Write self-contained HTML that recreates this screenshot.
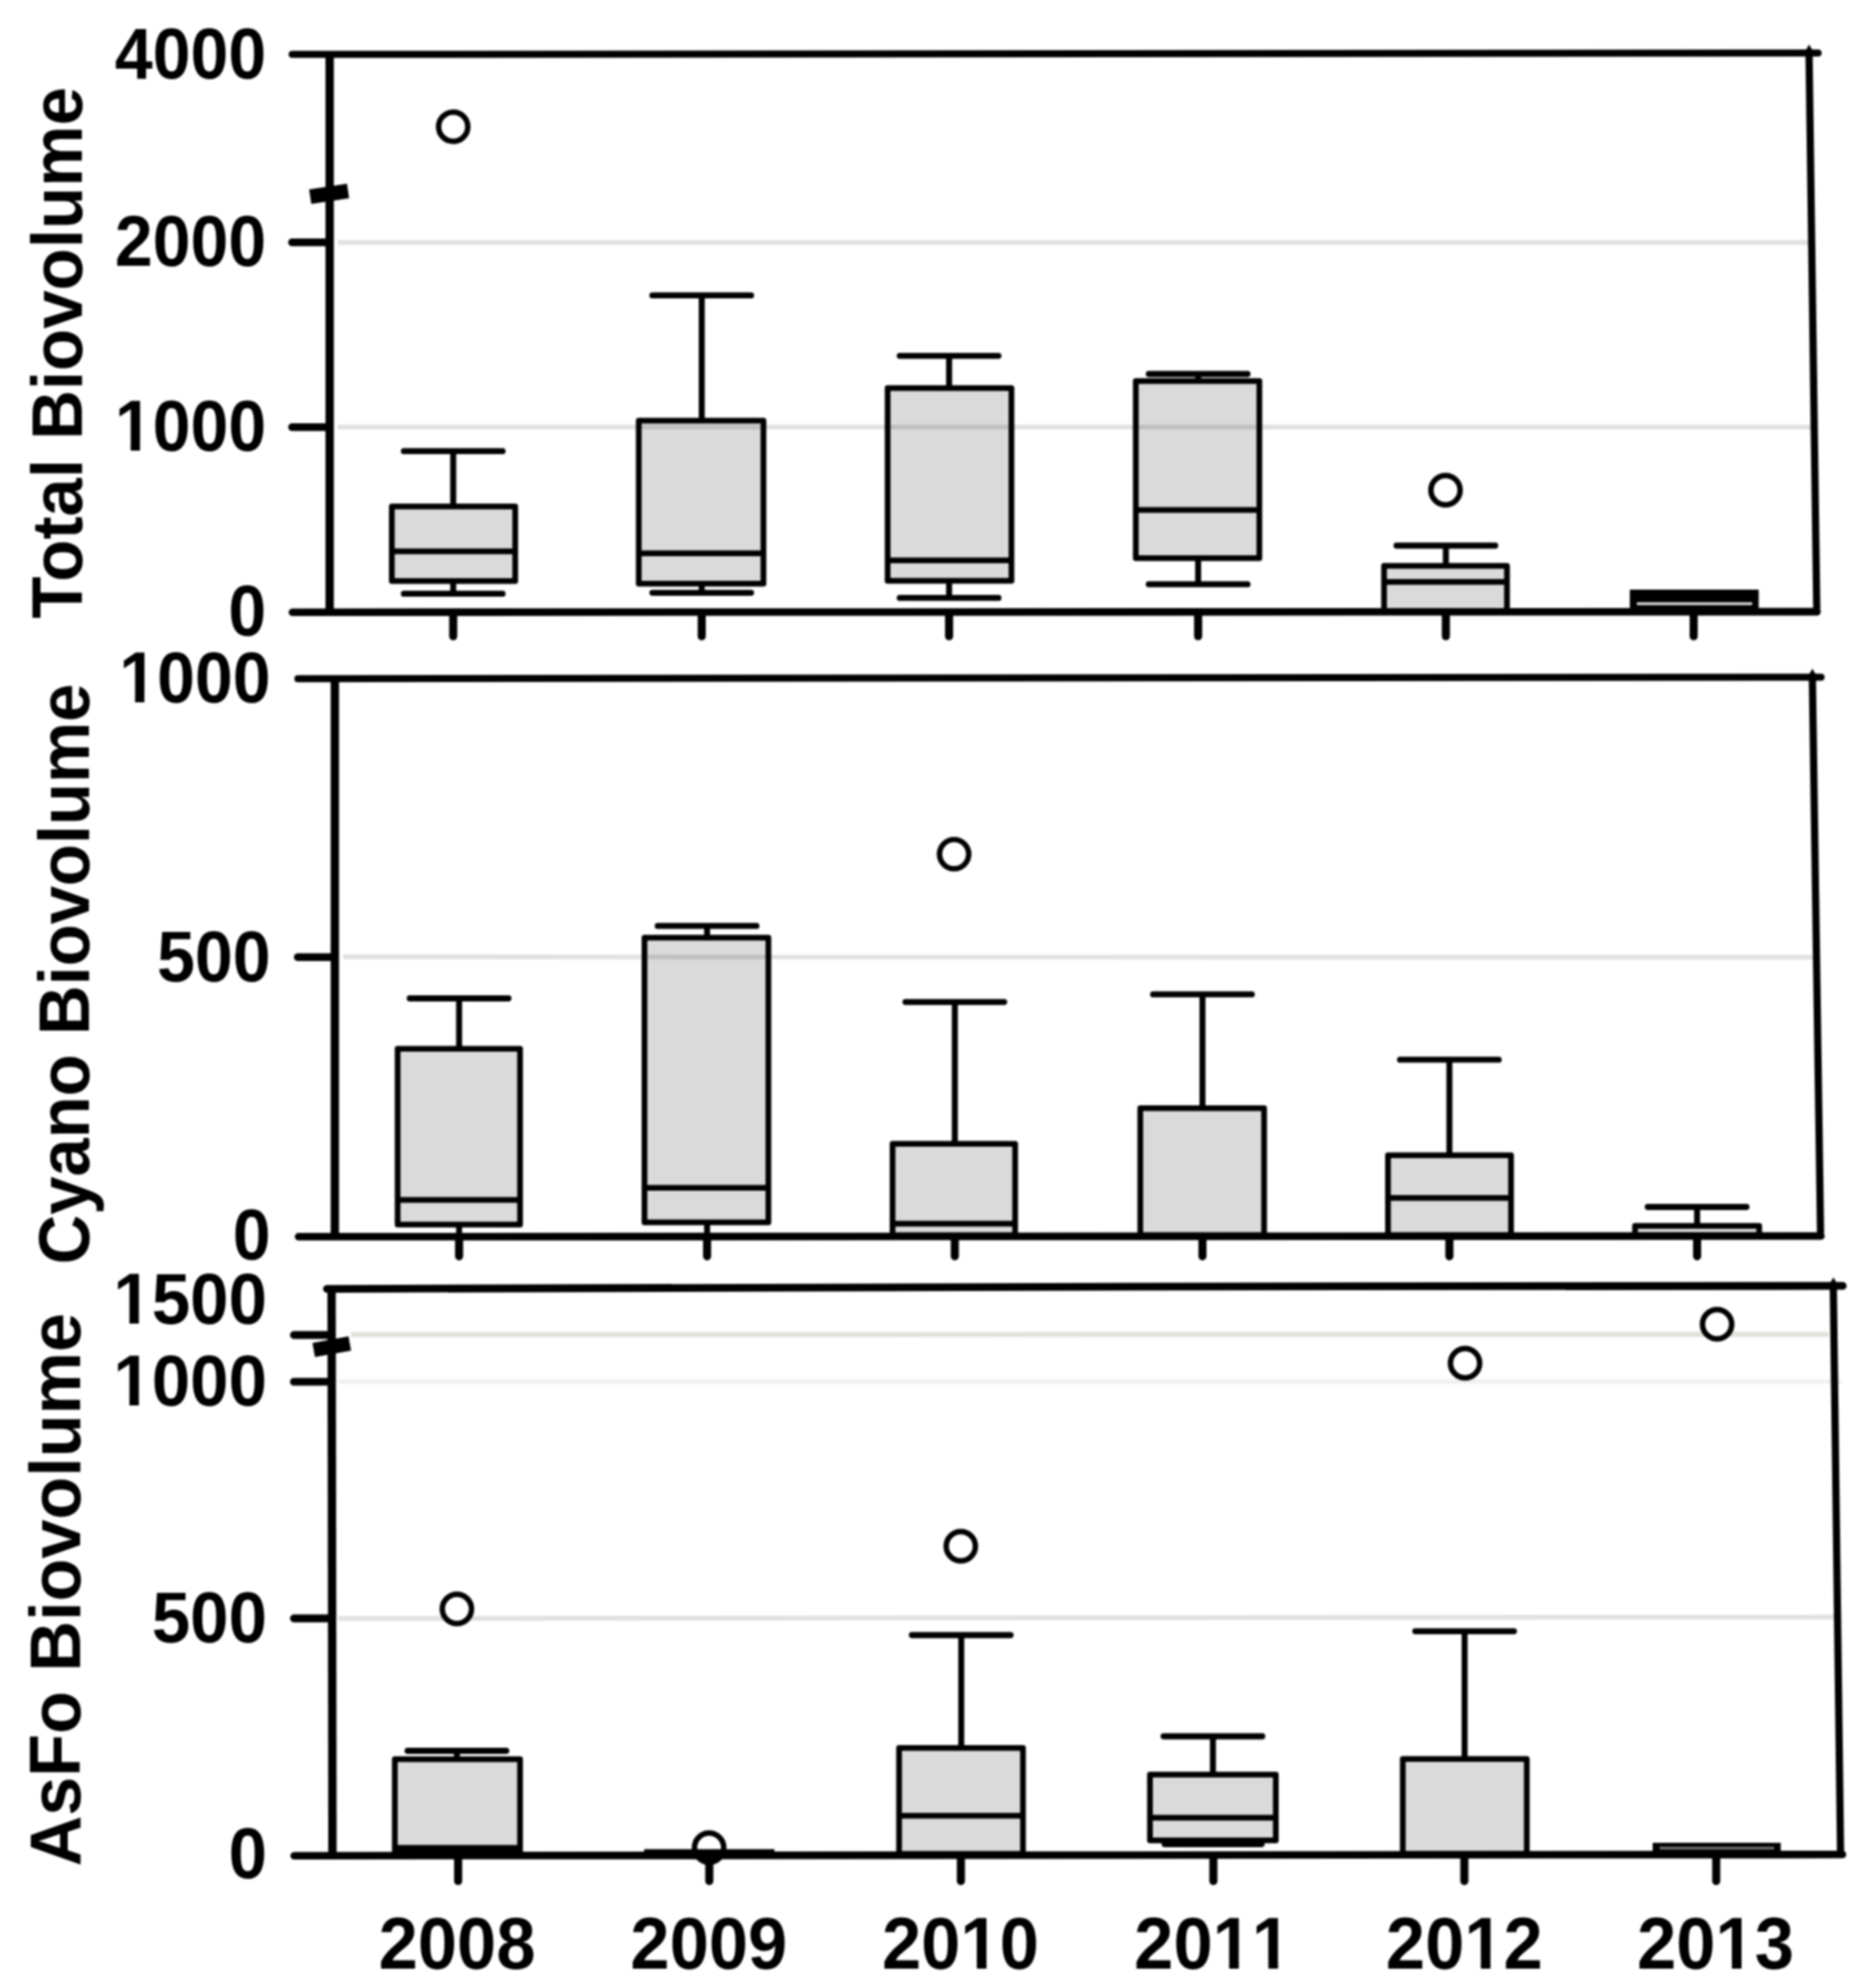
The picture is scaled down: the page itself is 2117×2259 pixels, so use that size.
<!DOCTYPE html>
<html><head><meta charset="utf-8"><title>Biovolume box plots</title>
<style>
html,body{margin:0;padding:0;background:#fff;overflow:hidden;}
svg{display:block;filter:blur(0.9px);}
text{font-family:"Liberation Sans",Arial,Helvetica,sans-serif;font-weight:700;fill:#000;font-kerning:none;}
</style></head><body>
<svg width="2117" height="2259" viewBox="0 0 2117 2259">
<rect width="2117" height="2259" fill="#fff"/>
<g id="gridlines">
<line x1="384" y1="275.4" x2="2061" y2="275.4" stroke="#e1e1e3" stroke-width="5.5" stroke-linecap="butt"/>
<line x1="384" y1="485.2" x2="2063" y2="485.2" stroke="#e1e1e3" stroke-width="5.5" stroke-linecap="butt"/>
<line x1="390" y1="1087.3" x2="2066" y2="1087.8" stroke="#e1e1e3" stroke-width="5.5" stroke-linecap="butt"/>
<line x1="399" y1="1516.5" x2="2078" y2="1516.2" stroke="#e2e2dc" stroke-width="6" stroke-linecap="butt"/>
<line x1="384" y1="1570" x2="2093" y2="1570" stroke="#f1eff1" stroke-width="5" stroke-linecap="butt"/>
<line x1="384" y1="1839" x2="2089" y2="1837.6" stroke="#e1e1e3" stroke-width="5.5" stroke-linecap="butt"/>
</g>
<line x1="515" y1="512.7" x2="515" y2="574.3" stroke="#000" stroke-width="6.8" stroke-linecap="butt"/>
<line x1="458.9" y1="512.7" x2="571.1" y2="512.7" stroke="#000" stroke-width="6.8" stroke-linecap="round"/>
<line x1="515" y1="661.4" x2="515" y2="674.7" stroke="#000" stroke-width="6.8" stroke-linecap="butt"/>
<line x1="458.9" y1="674.7" x2="571.1" y2="674.7" stroke="#000" stroke-width="6.8" stroke-linecap="round"/>
<rect x="445.25" y="575.55" width="140.20000000000005" height="84.60000000000002" fill="#dadada" stroke="#000" stroke-width="6.5" stroke-linejoin="round" style="mix-blend-mode:multiply"/>
<line x1="445.25" y1="626.4" x2="585.45" y2="626.4" stroke="#000" stroke-width="6.5" stroke-linecap="butt"/>
<line x1="797.4" y1="335.7" x2="797.4" y2="476.8" stroke="#000" stroke-width="6.8" stroke-linecap="butt"/>
<line x1="741.3" y1="335.7" x2="853.5" y2="335.7" stroke="#000" stroke-width="6.8" stroke-linecap="round"/>
<line x1="797.4" y1="664.5" x2="797.4" y2="673.6" stroke="#000" stroke-width="6.8" stroke-linecap="butt"/>
<line x1="741.3" y1="673.6" x2="853.5" y2="673.6" stroke="#000" stroke-width="6.8" stroke-linecap="round"/>
<rect x="725.85" y="478.05" width="141.69999999999993" height="185.2" fill="#dadada" stroke="#000" stroke-width="6.5" stroke-linejoin="round" style="mix-blend-mode:multiply"/>
<line x1="725.85" y1="628.8" x2="867.55" y2="628.8" stroke="#000" stroke-width="6.5" stroke-linecap="butt"/>
<line x1="1078.5" y1="404.3" x2="1078.5" y2="439.8" stroke="#000" stroke-width="6.8" stroke-linecap="butt"/>
<line x1="1022.4" y1="404.3" x2="1134.6" y2="404.3" stroke="#000" stroke-width="6.8" stroke-linecap="round"/>
<line x1="1078.5" y1="661.3" x2="1078.5" y2="679.4" stroke="#000" stroke-width="6.8" stroke-linecap="butt"/>
<line x1="1022.4" y1="679.4" x2="1134.6" y2="679.4" stroke="#000" stroke-width="6.8" stroke-linecap="round"/>
<rect x="1008.65" y="441.05" width="140.69999999999993" height="218.99999999999994" fill="#dadada" stroke="#000" stroke-width="6.5" stroke-linejoin="round" style="mix-blend-mode:multiply"/>
<line x1="1008.65" y1="636.8" x2="1149.35" y2="636.8" stroke="#000" stroke-width="6.5" stroke-linecap="butt"/>
<line x1="1361.5" y1="425" x2="1361.5" y2="431.8" stroke="#000" stroke-width="6.8" stroke-linecap="butt"/>
<line x1="1305.4" y1="425.0" x2="1417.6" y2="425.0" stroke="#000" stroke-width="6.8" stroke-linecap="round"/>
<line x1="1361.5" y1="635.5" x2="1361.5" y2="663.9" stroke="#000" stroke-width="6.8" stroke-linecap="butt"/>
<line x1="1305.4" y1="663.9" x2="1417.6" y2="663.9" stroke="#000" stroke-width="6.8" stroke-linecap="round"/>
<rect x="1290.65" y="433.05" width="140.39999999999986" height="201.2" fill="#dadada" stroke="#000" stroke-width="6.5" stroke-linejoin="round" style="mix-blend-mode:multiply"/>
<line x1="1290.65" y1="579.5" x2="1431.05" y2="579.5" stroke="#000" stroke-width="6.5" stroke-linecap="butt"/>
<line x1="1643" y1="620" x2="1643" y2="641.8" stroke="#000" stroke-width="6.8" stroke-linecap="butt"/>
<line x1="1586.9" y1="620.0" x2="1699.1" y2="620.0" stroke="#000" stroke-width="6.8" stroke-linecap="round"/>
<rect x="1572.75" y="643.05" width="139.70000000000005" height="51.700000000000045" fill="#dadada" stroke="#000" stroke-width="6.5" stroke-linejoin="round" style="mix-blend-mode:multiply"/>
<line x1="1572.75" y1="661.3" x2="1712.45" y2="661.3" stroke="#000" stroke-width="6.5" stroke-linecap="butt"/>
<rect x="1852" y="670" width="146.5" height="26" fill="#000"/>
<line x1="1860" y1="686" x2="1991" y2="686" stroke="#e8e8e8" stroke-width="3" stroke-linecap="butt"/>
<circle cx="515" cy="144" r="16.6" fill="#fff" stroke="#000" stroke-width="6.2"/>
<circle cx="1642.6" cy="557" r="16.6" fill="#fff" stroke="#000" stroke-width="6.2"/>
<line x1="332.0" y1="61.8" x2="2066.0" y2="60.2" stroke="#000" stroke-width="8" stroke-linecap="round"/>
<line x1="332.3" y1="695.7" x2="2064.7" y2="695.1" stroke="#000" stroke-width="8.6" stroke-linecap="round"/>
<line x1="374.6" y1="61.8" x2="374.6" y2="695.5" stroke="#000" stroke-width="9.5" stroke-linecap="butt"/>
<line x1="2055.66" y1="59.1" x2="2064.44" y2="690.9" stroke="#000" stroke-width="8.2" stroke-linecap="round"/>
<polygon points="2051.5,58 2055.8,50.5 2060,58"/>
<line x1="331.9" y1="275.4" x2="369.6" y2="275.4" stroke="#000" stroke-width="8.8" stroke-linecap="round"/>
<line x1="331.9" y1="485.3" x2="369.6" y2="485.3" stroke="#000" stroke-width="8.8" stroke-linecap="round"/>
<line x1="515.0" y1="699.6" x2="515.0" y2="722.9" stroke="#000" stroke-width="9.2" stroke-linecap="round"/>
<line x1="797.4" y1="699.6" x2="797.4" y2="722.9" stroke="#000" stroke-width="9.2" stroke-linecap="round"/>
<line x1="1078.5" y1="699.6" x2="1078.5" y2="722.9" stroke="#000" stroke-width="9.2" stroke-linecap="round"/>
<line x1="1361.5" y1="699.6" x2="1361.5" y2="722.9" stroke="#000" stroke-width="9.2" stroke-linecap="round"/>
<line x1="1643.0" y1="699.6" x2="1643.0" y2="722.9" stroke="#000" stroke-width="9.2" stroke-linecap="round"/>
<line x1="1924.6" y1="699.6" x2="1924.6" y2="722.9" stroke="#000" stroke-width="9.2" stroke-linecap="round"/>
<line x1="352.5" y1="223.5" x2="395.5" y2="217" stroke="#000" stroke-width="16.5" stroke-linecap="butt"/>
<line x1="521.7" y1="1134.5" x2="521.7" y2="1190.6" stroke="#000" stroke-width="6.8" stroke-linecap="butt"/>
<line x1="465.6" y1="1134.5" x2="577.8" y2="1134.5" stroke="#000" stroke-width="6.8" stroke-linecap="round"/>
<rect x="451.85" y="1191.85" width="139.10000000000002" height="199.60000000000014" fill="#dadada" stroke="#000" stroke-width="6.5" stroke-linejoin="round" style="mix-blend-mode:multiply"/>
<line x1="451.85" y1="1363.4" x2="590.95" y2="1363.4" stroke="#000" stroke-width="6.5" stroke-linecap="butt"/>
<line x1="521.7" y1="1392" x2="521.7" y2="1404" stroke="#000" stroke-width="6.8" stroke-linecap="butt"/>
<line x1="803.5" y1="1052.2" x2="803.5" y2="1064.3" stroke="#000" stroke-width="6.8" stroke-linecap="butt"/>
<line x1="747.4" y1="1052.2" x2="859.6" y2="1052.2" stroke="#000" stroke-width="6.8" stroke-linecap="round"/>
<rect x="732.35" y="1065.55" width="140.79999999999995" height="323.5" fill="#dadada" stroke="#000" stroke-width="6.5" stroke-linejoin="round" style="mix-blend-mode:multiply"/>
<line x1="732.35" y1="1349.8" x2="873.15" y2="1349.8" stroke="#000" stroke-width="6.5" stroke-linecap="butt"/>
<line x1="803.5" y1="1390" x2="803.5" y2="1404" stroke="#000" stroke-width="6.8" stroke-linecap="butt"/>
<line x1="1085" y1="1138.6" x2="1085" y2="1298.5" stroke="#000" stroke-width="6.8" stroke-linecap="butt"/>
<line x1="1028.9" y1="1138.6" x2="1141.1" y2="1138.6" stroke="#000" stroke-width="6.8" stroke-linecap="round"/>
<rect x="1014.25" y="1299.75" width="139.29999999999995" height="104.0" fill="#dadada" stroke="#000" stroke-width="6.5" stroke-linejoin="round" style="mix-blend-mode:multiply"/>
<line x1="1014.25" y1="1390.4" x2="1153.55" y2="1390.4" stroke="#000" stroke-width="6.5" stroke-linecap="butt"/>
<line x1="1366.4" y1="1129.9" x2="1366.4" y2="1257.9" stroke="#000" stroke-width="6.8" stroke-linecap="butt"/>
<line x1="1310.3" y1="1129.9" x2="1422.5" y2="1129.9" stroke="#000" stroke-width="6.8" stroke-linecap="round"/>
<rect x="1295.75" y="1259.15" width="140.70000000000005" height="144.5999999999999" fill="#dadada" stroke="#000" stroke-width="6.5" stroke-linejoin="round" style="mix-blend-mode:multiply"/>
<line x1="1647" y1="1204.2" x2="1647" y2="1311.5" stroke="#000" stroke-width="6.8" stroke-linecap="butt"/>
<line x1="1590.9" y1="1204.2" x2="1703.1" y2="1204.2" stroke="#000" stroke-width="6.8" stroke-linecap="round"/>
<rect x="1577.25" y="1312.75" width="139.79999999999995" height="91.0" fill="#dadada" stroke="#000" stroke-width="6.5" stroke-linejoin="round" style="mix-blend-mode:multiply"/>
<line x1="1577.25" y1="1361.2" x2="1717.05" y2="1361.2" stroke="#000" stroke-width="6.5" stroke-linecap="butt"/>
<line x1="1928.5" y1="1371.5" x2="1928.5" y2="1391.8" stroke="#000" stroke-width="6.8" stroke-linecap="butt"/>
<line x1="1872.4" y1="1371.5" x2="1984.6" y2="1371.5" stroke="#000" stroke-width="6.8" stroke-linecap="round"/>
<rect x="1857.95" y="1393.05" width="141.0999999999999" height="10.700000000000045" fill="#dadada" stroke="#000" stroke-width="6.5" stroke-linejoin="round" style="mix-blend-mode:multiply"/>
<circle cx="1084.2" cy="970.6" r="16.6" fill="#fff" stroke="#000" stroke-width="6.2"/>
<line x1="338.5" y1="771.2" x2="2069.4" y2="769.4" stroke="#000" stroke-width="8" stroke-linecap="round"/>
<line x1="339.3" y1="1405.3" x2="2069.2" y2="1404.5" stroke="#000" stroke-width="8.6" stroke-linecap="round"/>
<line x1="380.5" y1="771" x2="380.5" y2="1404" stroke="#000" stroke-width="9.5" stroke-linecap="butt"/>
<line x1="2059.46" y1="769.1" x2="2068.74" y2="1399.4" stroke="#000" stroke-width="8.2" stroke-linecap="round"/>
<polygon points="2055.4,767 2059.5,759.8 2063.6,767"/>
<line x1="338.4" y1="1087.7" x2="376.6" y2="1087.7" stroke="#000" stroke-width="8.8" stroke-linecap="round"/>
<line x1="521.7" y1="1408.6" x2="521.7" y2="1427.6" stroke="#000" stroke-width="9.2" stroke-linecap="round"/>
<line x1="803.5" y1="1408.6" x2="803.5" y2="1427.6" stroke="#000" stroke-width="9.2" stroke-linecap="round"/>
<line x1="1085.0" y1="1408.6" x2="1085.0" y2="1427.6" stroke="#000" stroke-width="9.2" stroke-linecap="round"/>
<line x1="1366.4" y1="1408.6" x2="1366.4" y2="1427.6" stroke="#000" stroke-width="9.2" stroke-linecap="round"/>
<line x1="1647.0" y1="1408.6" x2="1647.0" y2="1427.6" stroke="#000" stroke-width="9.2" stroke-linecap="round"/>
<line x1="1928.5" y1="1408.6" x2="1928.5" y2="1427.6" stroke="#000" stroke-width="9.2" stroke-linecap="round"/>
<line x1="519.2" y1="1989.5" x2="519.2" y2="1997.8" stroke="#000" stroke-width="6.8" stroke-linecap="butt"/>
<line x1="463.1" y1="1989.5" x2="575.3" y2="1989.5" stroke="#000" stroke-width="6.8" stroke-linecap="round"/>
<rect x="448.65" y="1999.05" width="142.30000000000007" height="107.70000000000005" fill="#dadada" stroke="#000" stroke-width="6.5" stroke-linejoin="round" style="mix-blend-mode:multiply"/>
<line x1="446" y1="2101" x2="594" y2="2101" stroke="#000" stroke-width="9" stroke-linecap="butt"/>
<circle cx="805.8" cy="2099.5" r="16.6" fill="#fff" stroke="#000" stroke-width="6.2"/>
<line x1="732" y1="2103" x2="880" y2="2103" stroke="#000" stroke-width="3.5" stroke-linecap="butt"/>
<line x1="1092.3" y1="1858" x2="1092.3" y2="1985" stroke="#000" stroke-width="6.8" stroke-linecap="butt"/>
<line x1="1036.2" y1="1858.0" x2="1148.4" y2="1858.0" stroke="#000" stroke-width="6.8" stroke-linecap="round"/>
<rect x="1021.65" y="1986.25" width="140.80000000000007" height="120.5" fill="#dadada" stroke="#000" stroke-width="6.5" stroke-linejoin="round" style="mix-blend-mode:multiply"/>
<line x1="1021.65" y1="2063.3" x2="1162.45" y2="2063.3" stroke="#000" stroke-width="6.5" stroke-linecap="butt"/>
<line x1="1378.3" y1="1973" x2="1378.3" y2="2015.2" stroke="#000" stroke-width="6.8" stroke-linecap="butt"/>
<line x1="1322.2" y1="1973.0" x2="1434.4" y2="1973.0" stroke="#000" stroke-width="6.8" stroke-linecap="round"/>
<rect x="1306.75" y="2016.45" width="143.0" height="74.79999999999995" fill="#dadada" stroke="#000" stroke-width="6.5" stroke-linejoin="round" style="mix-blend-mode:multiply"/>
<line x1="1306.75" y1="2065.6" x2="1449.75" y2="2065.6" stroke="#000" stroke-width="6.5" stroke-linecap="butt"/>
<line x1="1323.4" y1="2095.5" x2="1433.6" y2="2095.5" stroke="#000" stroke-width="6.8" stroke-linecap="round"/>
<line x1="1664.3" y1="1853.6" x2="1664.3" y2="1997.5" stroke="#000" stroke-width="6.8" stroke-linecap="butt"/>
<line x1="1608.2" y1="1853.6" x2="1720.4" y2="1853.6" stroke="#000" stroke-width="6.8" stroke-linecap="round"/>
<rect x="1594.05" y="1998.75" width="140.9000000000001" height="108.0" fill="#dadada" stroke="#000" stroke-width="6.5" stroke-linejoin="round" style="mix-blend-mode:multiply"/>
<rect x="1878" y="2094" width="145.5" height="12" fill="#000"/>
<line x1="1886" y1="2100" x2="2016" y2="2100" stroke="#777" stroke-width="3" stroke-linecap="butt"/>
<polyline points="371.5,1464.6 1100,1462.6 1400,1461.8 2094,1461.2" fill="none" stroke="#000" stroke-width="8.8" stroke-linecap="round" stroke-linejoin="round"/>
<line x1="334.3" y1="2108.7" x2="2093.7" y2="2107.3" stroke="#000" stroke-width="8.6" stroke-linecap="round"/>
<line x1="376.8" y1="1464" x2="377.8" y2="2107.5" stroke="#000" stroke-width="9.5" stroke-linecap="butt"/>
<line x1="2083.25" y1="1460.1" x2="2091.45" y2="2102.4" stroke="#000" stroke-width="8.2" stroke-linecap="round"/>
<polygon points="2079,1459 2083.4,1451.5 2087.6,1459"/>
<line x1="333.9" y1="1517.0" x2="372.6" y2="1517.0" stroke="#000" stroke-width="8.8" stroke-linecap="round"/>
<line x1="333.9" y1="1570.1" x2="372.6" y2="1570.1" stroke="#000" stroke-width="8.8" stroke-linecap="round"/>
<line x1="333.9" y1="1839.0" x2="372.6" y2="1839.0" stroke="#000" stroke-width="8.8" stroke-linecap="round"/>
<line x1="520.6" y1="2111.6" x2="520.6" y2="2137.4" stroke="#000" stroke-width="9.2" stroke-linecap="round"/>
<line x1="806.0" y1="2111.6" x2="806.0" y2="2137.4" stroke="#000" stroke-width="9.2" stroke-linecap="round"/>
<line x1="1091.9" y1="2111.6" x2="1091.9" y2="2137.4" stroke="#000" stroke-width="9.2" stroke-linecap="round"/>
<line x1="1378.8" y1="2111.6" x2="1378.8" y2="2137.4" stroke="#000" stroke-width="9.2" stroke-linecap="round"/>
<line x1="1664.0" y1="2111.6" x2="1664.0" y2="2137.4" stroke="#000" stroke-width="9.2" stroke-linecap="round"/>
<line x1="1950.2" y1="2111.6" x2="1950.2" y2="2137.4" stroke="#000" stroke-width="9.2" stroke-linecap="round"/>
<line x1="356.5" y1="1534" x2="397.5" y2="1526.7" stroke="#000" stroke-width="16.5" stroke-linecap="butt"/>
<circle cx="519.2" cy="1828.3" r="16.6" fill="#fff" stroke="#000" stroke-width="6.2"/>
<circle cx="1091.8" cy="1757" r="16.6" fill="#fff" stroke="#000" stroke-width="6.2"/>
<circle cx="1664.8" cy="1549" r="16.6" fill="#fff" stroke="#000" stroke-width="6.2"/>
<circle cx="1951.2" cy="1504.7" r="16.6" fill="#fff" stroke="#000" stroke-width="6.2"/>
<g transform="translate(302.5 88.5) scale(0.955 1)"><text text-anchor="end" font-size="81">4000</text></g>
<g transform="translate(302.5 302) scale(0.955 1)"><text text-anchor="end" font-size="81">2000</text></g>
<g transform="translate(302.5 512) scale(0.955 1)"><text text-anchor="end" font-size="81">1000</text><rect x="-176.29" y="-9.07" width="15.00" height="10.27" fill="#fff"/><rect x="-150.17" y="-9.07" width="13.97" height="10.27" fill="#fff"/></g>
<g transform="translate(302.5 722) scale(0.955 1)"><text text-anchor="end" font-size="81">0</text></g>
<g transform="translate(307.5 797.5) scale(0.955 1)"><text text-anchor="end" font-size="81">1000</text><rect x="-176.29" y="-9.07" width="15.00" height="10.27" fill="#fff"/><rect x="-150.17" y="-9.07" width="13.97" height="10.27" fill="#fff"/></g>
<g transform="translate(307.5 1114.5) scale(0.955 1)"><text text-anchor="end" font-size="81">500</text></g>
<g transform="translate(307.5 1431) scale(0.955 1)"><text text-anchor="end" font-size="81">0</text></g>
<g transform="translate(303.5 1503.8) scale(0.97 1)"><text text-anchor="end" font-size="81">1500</text><rect x="-176.29" y="-9.07" width="15.00" height="10.27" fill="#fff"/><rect x="-150.17" y="-9.07" width="13.97" height="10.27" fill="#fff"/></g>
<g transform="translate(303.5 1596.5) scale(0.97 1)"><text text-anchor="end" font-size="81">1000</text><rect x="-176.29" y="-9.07" width="15.00" height="10.27" fill="#fff"/><rect x="-150.17" y="-9.07" width="13.97" height="10.27" fill="#fff"/></g>
<g transform="translate(303.5 1865.8) scale(0.97 1)"><text text-anchor="end" font-size="81">500</text></g>
<g transform="translate(303.5 2133.8) scale(0.97 1)"><text text-anchor="end" font-size="81">0</text></g>
<g transform="translate(519.3 2236.5) scale(0.966 1)"><text text-anchor="middle" font-size="83">2008</text></g>
<g transform="translate(805.5 2236.5) scale(0.966 1)"><text text-anchor="middle" font-size="83">2009</text></g>
<g transform="translate(1091.3 2236.5) scale(0.966 1)"><text text-anchor="middle" font-size="83">2010</text><rect x="4.03" y="-9.27" width="15.34" height="10.47" fill="#fff"/><rect x="30.76" y="-9.27" width="14.29" height="10.47" fill="#fff"/></g>
<g transform="translate(1378 2236.5) scale(0.966 1)"><text text-anchor="middle" font-size="83">2011</text><rect x="4.03" y="-9.27" width="15.34" height="10.47" fill="#fff"/><rect x="30.76" y="-9.27" width="14.29" height="10.47" fill="#fff"/><rect x="50.19" y="-9.27" width="15.34" height="10.47" fill="#fff"/><rect x="76.92" y="-9.27" width="14.29" height="10.47" fill="#fff"/></g>
<g transform="translate(1664 2236.5) scale(0.966 1)"><text text-anchor="middle" font-size="83">2012</text><rect x="4.03" y="-9.27" width="15.34" height="10.47" fill="#fff"/><rect x="30.76" y="-9.27" width="14.29" height="10.47" fill="#fff"/></g>
<g transform="translate(1949.3 2236.5) scale(0.966 1)"><text text-anchor="middle" font-size="83">2013</text><rect x="4.03" y="-9.27" width="15.34" height="10.47" fill="#fff"/><rect x="30.76" y="-9.27" width="14.29" height="10.47" fill="#fff"/></g>
<g transform="translate(93 703) rotate(-90) scale(0.968 1)"><text text-anchor="start" font-size="81" style="font-kerning:normal">Total Biovolume</text></g>
<g transform="translate(100.5 1436.8) rotate(-90) scale(0.965 1)"><text text-anchor="start" font-size="81" style="font-kerning:normal">Cyano Biovolume</text></g>
<g transform="translate(91 2120.8) rotate(-90) scale(0.984 1)"><text text-anchor="start" font-size="81" style="font-kerning:normal">AsFo Biovolume</text></g>
</svg>
</body></html>
